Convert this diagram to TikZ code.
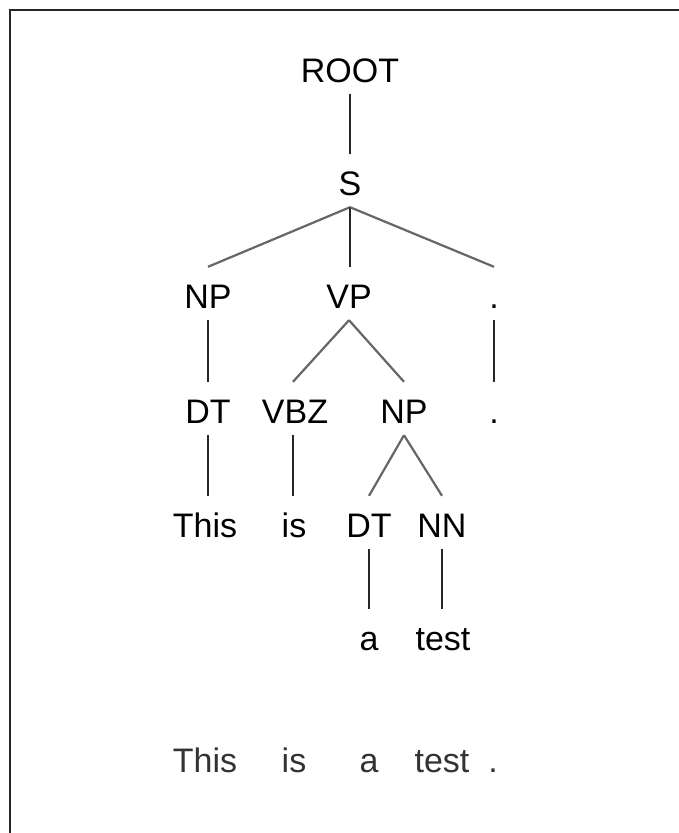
\documentclass[tikz,border=0pt]{standalone}
\usepackage{fontspec}
\setmainfont{Liberation Sans}
\begin{document}
\begin{tikzpicture}[x=1pt,y=-1pt,
  lbl/.style={font=\fontsize{34}{40}\selectfont, text=black, anchor=base,
    inner xsep=0pt, inner ysep=12pt, text height=29pt, text depth=0pt},
  word/.style={font=\fontsize{34}{40}\selectfont, text=black!80, anchor=base, inner sep=0pt},
  vline/.style={draw=black!85, line width=2.2pt},
  dline/.style={draw=black!60, line width=2.2pt},
  frame/.style={draw=black!85, line width=2pt}]
\useasboundingbox (0,0) rectangle (679,833);
\draw[frame] (10,834) -- (10,10) -- (680,10);
% tree
\node[lbl] (ROOT) at (350,82) {ROOT};
\node[lbl] (S) at (350,195) {S};
\node[lbl] (NPa) at (208,308) {NP};
\node[lbl] (VP) at (349,308) {VP};
\node[lbl] (dotA) at (494,308) {.};
\node[lbl] (DTa) at (208,423) {DT};
\node[lbl] (VBZ) at (295,423) {VBZ};
\node[lbl] (NPb) at (404,423) {NP};
\node[lbl] (dotB) at (494,423) {.};
\node[lbl] (This) at (205,537) {This};
\node[lbl] (is) at (294,537) {is};
\node[lbl] (DTb) at (369,537) {DT};
\node[lbl] (NN) at (442,537) {NN};
\node[lbl] (a) at (369,650) {a};
\node[lbl] (test) at (443,650) {test};
\draw[vline] (ROOT.south) -- (ROOT.south |- S.north);
\draw[dline] (S.south) -- (NPa.north);
\draw[vline] (S.south) -- (S.south |- VP.north);
\draw[dline] (S.south) -- (dotA.north);
\draw[vline] (NPa.south) -- (NPa.south |- DTa.north);
\draw[dline] (VP.south) -- ([xshift=-2pt]VBZ.north);
\draw[dline] (VP.south) -- (NPb.north);
\draw[vline] (dotA.south) -- (dotA.south |- dotB.north);
\draw[vline] (DTa.south) -- (DTa.south |- This.north);
\draw[vline] ([xshift=-2pt]VBZ.south) -- ([xshift=-2pt]VBZ.south |- is.north);
\draw[dline] (NPb.south) -- (DTb.north);
\draw[dline] (NPb.south) -- (NN.north);
\draw[vline] (DTb.south) -- (DTb.south |- a.north);
\draw[vline] (NN.south) -- (NN.south |- test.north);
% sentence
\node[word] (sThis) at (205,772) {This};
\node[word] (sis) at (294,772) {is};
\node[word] (sa) at (369,772) {a};
\node[word] (stest) at (442,772) {test};
\node[word] (sdot) at (493,772) {.};
\end{tikzpicture}
\end{document}
